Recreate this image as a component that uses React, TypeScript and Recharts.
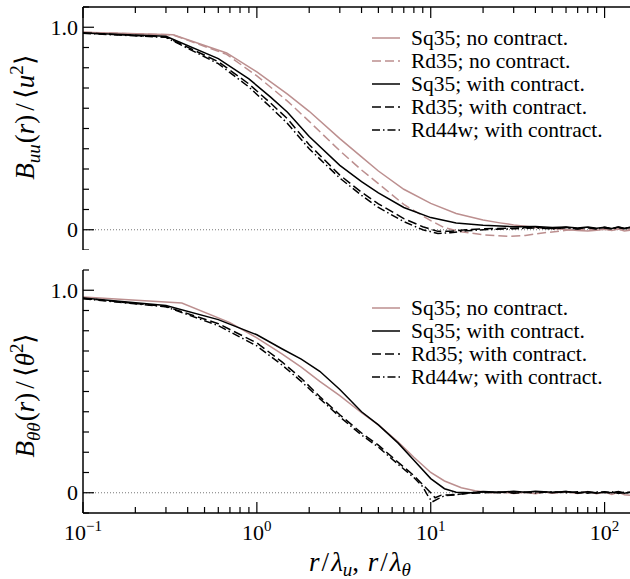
import React from 'react';
import { LineChart, Line, XAxis, YAxis, ReferenceLine } from 'recharts';

const PINK = '#bc8f8f';
const FONT = 'Liberation Serif';

// ---- x / y ticks ----
const X_TICKS = [0.1, 0.2, 0.3, 0.4, 0.5, 0.6, 0.7, 0.8, 0.9, 1, 2, 3, 4, 5, 6, 7, 8, 9, 10, 20, 30, 40, 50, 60, 70, 80, 90, 100];
const X_MAJOR = [0.1, 1, 10, 100];
const X_MAJOR_EXP = ['−1', '0', '1', '2'];
const Y_TICKS = [-0.1, 0, 0.1, 0.2, 0.3, 0.4, 0.5, 0.6, 0.7, 0.8, 0.9, 1.0, 1.1];
const Y_LABELED = [0, 1];
const Y_LABEL_TEXT = ['0', '1.0'];

// ---- top panel: B_uu ----
const topSq35No = [
  { x: 0.1, y: 0.975 }, { x: 0.33, y: 0.963 }, { x: 0.67, y: 0.873 }, { x: 1.0, y: 0.78 },
  { x: 1.5, y: 0.67 }, { x: 2.0, y: 0.585 }, { x: 3.0, y: 0.45 }, { x: 4.0, y: 0.36 },
  { x: 5.0, y: 0.29 }, { x: 7.0, y: 0.2 }, { x: 10, y: 0.13 }, { x: 14, y: 0.08 },
  { x: 20, y: 0.048 }, { x: 25, y: 0.034 }, { x: 30, y: 0.024 }, { x: 35, y: 0.017 },
  { x: 40, y: 0.011 }, { x: 50, y: 0.006 }, { x: 60, y: 0.001 }, { x: 70, y: -0.004 },
  { x: 80, y: -0.006 }, { x: 90, y: -0.002 }, { x: 100, y: 0.003 }, { x: 110, y: -0.004 },
  { x: 120, y: 0.004 }, { x: 130, y: -0.006 }, { x: 140, y: -0.003 },
];
const topRd35No = [
  { x: 0.1, y: 0.975 }, { x: 0.33, y: 0.962 }, { x: 0.67, y: 0.866 }, { x: 1.0, y: 0.76 },
  { x: 1.5, y: 0.635 }, { x: 2.0, y: 0.535 }, { x: 3.0, y: 0.39 }, { x: 4.0, y: 0.295 },
  { x: 5.0, y: 0.228 }, { x: 7.0, y: 0.125 }, { x: 10, y: 0.045 }, { x: 12, y: 0.01 },
  { x: 15, y: -0.01 }, { x: 20, y: -0.025 }, { x: 28, y: -0.033 }, { x: 35, y: -0.028 },
  { x: 45, y: -0.015 }, { x: 60, y: -0.003 }, { x: 70, y: 0.002 }, { x: 80, y: -0.002 },
  { x: 90, y: 0.004 }, { x: 100, y: 0.005 }, { x: 110, y: -0.002 }, { x: 120, y: 0.005 },
  { x: 130, y: 0.0 }, { x: 140, y: 0.004 },
];
const topSq35With = [
  { x: 0.1, y: 0.972 }, { x: 0.3, y: 0.955 }, { x: 0.6, y: 0.845 }, { x: 0.9, y: 0.745 },
  { x: 1.2, y: 0.655 }, { x: 1.5, y: 0.58 }, { x: 2.0, y: 0.46 }, { x: 3.0, y: 0.318 },
  { x: 4.0, y: 0.238 }, { x: 5.0, y: 0.182 }, { x: 7.0, y: 0.11 }, { x: 10, y: 0.06 },
  { x: 14, y: 0.033 }, { x: 20, y: 0.022 }, { x: 25, y: 0.018 }, { x: 30, y: 0.015 },
  { x: 40, y: 0.016 }, { x: 50, y: 0.011 }, { x: 60, y: 0.014 }, { x: 70, y: 0.009 },
  { x: 80, y: 0.013 }, { x: 90, y: 0.007 }, { x: 100, y: 0.012 }, { x: 110, y: 0.006 },
  { x: 120, y: 0.013 }, { x: 130, y: 0.008 }, { x: 140, y: 0.011 },
];
const topRd35With = [
  { x: 0.1, y: 0.972 }, { x: 0.3, y: 0.952 }, { x: 0.6, y: 0.83 }, { x: 0.9, y: 0.72 },
  { x: 1.2, y: 0.625 }, { x: 1.5, y: 0.548 }, { x: 2.0, y: 0.42 }, { x: 3.0, y: 0.27 },
  { x: 4.0, y: 0.185 }, { x: 5.0, y: 0.128 }, { x: 7.0, y: 0.055 }, { x: 9.0, y: 0.015 },
  { x: 11, y: -0.008 }, { x: 13, y: -0.008 }, { x: 16, y: 0.0 }, { x: 20, y: 0.005 },
  { x: 30, y: 0.008 }, { x: 40, y: 0.012 }, { x: 50, y: 0.006 }, { x: 60, y: 0.012 },
  { x: 70, y: 0.005 }, { x: 80, y: 0.01 }, { x: 90, y: 0.004 }, { x: 100, y: 0.012 },
  { x: 110, y: 0.005 }, { x: 120, y: 0.014 }, { x: 130, y: 0.006 }, { x: 140, y: 0.012 },
];
const topRd44wWith = [
  { x: 0.1, y: 0.97 }, { x: 0.3, y: 0.95 }, { x: 0.6, y: 0.82 }, { x: 0.9, y: 0.705 },
  { x: 1.2, y: 0.605 }, { x: 1.5, y: 0.525 }, { x: 2.0, y: 0.4 }, { x: 3.0, y: 0.255 },
  { x: 4.0, y: 0.17 }, { x: 5.0, y: 0.11 }, { x: 7.0, y: 0.04 }, { x: 9.0, y: 0.0 },
  { x: 11, y: -0.018 }, { x: 13, y: -0.015 }, { x: 16, y: -0.005 }, { x: 20, y: 0.0 },
  { x: 30, y: 0.005 }, { x: 40, y: 0.009 }, { x: 50, y: 0.004 }, { x: 60, y: 0.01 },
  { x: 70, y: 0.004 }, { x: 80, y: 0.011 }, { x: 90, y: 0.005 }, { x: 100, y: 0.009 },
  { x: 110, y: 0.003 }, { x: 120, y: 0.01 }, { x: 130, y: 0.005 }, { x: 140, y: 0.009 },
];

// ---- bottom panel: B_thetatheta ----
const botSq35No = [
  { x: 0.1, y: 0.967 }, { x: 0.37, y: 0.937 }, { x: 0.7, y: 0.84 }, { x: 1.0, y: 0.765 },
  { x: 1.4, y: 0.685 }, { x: 1.8, y: 0.62 }, { x: 2.3, y: 0.55 }, { x: 3.0, y: 0.48 },
  { x: 4.0, y: 0.395 }, { x: 5.0, y: 0.335 }, { x: 6.5, y: 0.25 }, { x: 8.0, y: 0.175 },
  { x: 10, y: 0.1 }, { x: 12, y: 0.058 }, { x: 15, y: 0.025 }, { x: 18, y: 0.01 },
  { x: 22, y: 0.0 }, { x: 26, y: 0.003 }, { x: 30, y: -0.004 }, { x: 35, y: 0.002 },
  { x: 40, y: -0.005 }, { x: 45, y: 0.004 }, { x: 50, y: -0.003 }, { x: 60, y: 0.005 },
  { x: 70, y: -0.004 }, { x: 80, y: 0.006 }, { x: 90, y: -0.005 }, { x: 100, y: 0.004 },
  { x: 110, y: -0.008 }, { x: 120, y: 0.003 }, { x: 130, y: -0.01 }, { x: 140, y: -0.012 },
];
const botSq35With = [
  { x: 0.1, y: 0.962 }, { x: 0.3, y: 0.925 }, { x: 0.6, y: 0.855 }, { x: 1.0, y: 0.78 },
  { x: 1.4, y: 0.71 }, { x: 1.8, y: 0.66 }, { x: 2.3, y: 0.6 }, { x: 3.0, y: 0.51 },
  { x: 4.0, y: 0.4 }, { x: 5.0, y: 0.335 }, { x: 6.5, y: 0.245 }, { x: 8.0, y: 0.16 },
  { x: 10, y: 0.07 }, { x: 12, y: 0.02 }, { x: 14, y: 0.003 }, { x: 17, y: 0.0 },
  { x: 20, y: 0.006 }, { x: 25, y: 0.002 }, { x: 30, y: 0.008 }, { x: 35, y: 0.003 },
  { x: 40, y: 0.007 }, { x: 50, y: 0.002 }, { x: 60, y: 0.006 }, { x: 70, y: 0.0 },
  { x: 80, y: 0.005 }, { x: 90, y: -0.002 }, { x: 100, y: 0.004 }, { x: 110, y: 0.0 },
  { x: 120, y: 0.006 }, { x: 130, y: -0.002 }, { x: 140, y: 0.003 },
];
const botRd35With = [
  { x: 0.1, y: 0.96 }, { x: 0.3, y: 0.92 }, { x: 0.6, y: 0.835 }, { x: 1.0, y: 0.74 },
  { x: 1.4, y: 0.645 }, { x: 1.8, y: 0.565 }, { x: 2.3, y: 0.475 }, { x: 3.0, y: 0.385 },
  { x: 4.0, y: 0.295 }, { x: 5.0, y: 0.235 }, { x: 6.5, y: 0.15 }, { x: 8.0, y: 0.085 },
  { x: 9.0, y: 0.04 }, { x: 10, y: 0.0 }, { x: 10.6, y: -0.025 }, { x: 11.5, y: -0.012 },
  { x: 13, y: -0.01 }, { x: 16, y: -0.004 }, { x: 20, y: 0.0 }, { x: 25, y: 0.004 },
  { x: 30, y: -0.002 }, { x: 40, y: 0.005 }, { x: 50, y: 0.0 }, { x: 60, y: 0.006 },
  { x: 70, y: -0.002 }, { x: 80, y: 0.004 }, { x: 90, y: 0.0 }, { x: 100, y: 0.005 },
  { x: 110, y: -0.003 }, { x: 120, y: 0.004 }, { x: 130, y: -0.002 }, { x: 140, y: 0.002 },
];
const botRd44wWith = [
  { x: 0.1, y: 0.958 }, { x: 0.3, y: 0.918 }, { x: 0.6, y: 0.825 }, { x: 1.0, y: 0.725 },
  { x: 1.4, y: 0.63 }, { x: 1.8, y: 0.55 }, { x: 2.3, y: 0.465 }, { x: 3.0, y: 0.375 },
  { x: 4.0, y: 0.285 }, { x: 5.0, y: 0.225 }, { x: 6.5, y: 0.14 }, { x: 8.0, y: 0.075 },
  { x: 9.0, y: 0.03 }, { x: 9.7, y: -0.02 }, { x: 10.2, y: -0.045 }, { x: 11, y: -0.03 },
  { x: 12, y: -0.015 }, { x: 14, y: -0.01 }, { x: 17, y: 0.0 }, { x: 20, y: 0.004 },
  { x: 25, y: 0.0 }, { x: 30, y: 0.005 }, { x: 40, y: -0.001 }, { x: 50, y: 0.005 },
  { x: 60, y: 0.0 }, { x: 70, y: 0.005 }, { x: 80, y: -0.002 }, { x: 90, y: 0.004 },
  { x: 100, y: 0.0 }, { x: 110, y: 0.005 }, { x: 120, y: -0.003 }, { x: 130, y: 0.003 },
  { x: 140, y: 0.0 },
];

const DASH = '9 4';
const DASHDOT = '8 3 1.5 3';

const topSeries = [
  { name: 'Sq35; no contract.', data: topSq35No, color: PINK, dash: undefined },
  { name: 'Rd35; no contract.', data: topRd35No, color: PINK, dash: DASH },
  { name: 'Sq35; with contract.', data: topSq35With, color: '#000', dash: undefined },
  { name: 'Rd35; with contract.', data: topRd35With, color: '#000', dash: DASH },
  { name: 'Rd44w; with contract.', data: topRd44wWith, color: '#000', dash: DASHDOT },
];
const botSeries = [
  { name: 'Sq35; no contract.', data: botSq35No, color: PINK, dash: undefined },
  { name: 'Sq35; with contract.', data: botSq35With, color: '#000', dash: undefined },
  { name: 'Rd35; with contract.', data: botRd35With, color: '#000', dash: DASH },
  { name: 'Rd44w; with contract.', data: botRd44wWith, color: '#000', dash: DASHDOT },
];

const MAJOR_LEN = 11;
const MINOR_LEN = 6;
const TICK_W = 1.2;
const TICK_FONT = 22;
const TITLE_FONT = 27;
const SUB_FONT = 19;

const TopXTick = (p: any) => {
  const v = p.payload.value;
  const len = X_MAJOR.includes(v) ? MAJOR_LEN : MINOR_LEN;
  return <line x1={p.x} x2={p.x} y1={p.y} y2={p.y + len} stroke="#000" strokeWidth={TICK_W} />;
};

const BottomXTick = (p: any) => {
  const v = p.payload.value;
  const idx = X_MAJOR.indexOf(v);
  const len = idx >= 0 ? MAJOR_LEN : MINOR_LEN;
  return (
    <g>
      <line x1={p.x} x2={p.x} y1={p.y} y2={p.y - len} stroke="#000" strokeWidth={TICK_W} />
      {idx >= 0 && (
        <text x={p.x} y={p.y + 27} textAnchor="middle" fontFamily={FONT} fontSize={TICK_FONT} fill="#000">
          <tspan>10</tspan>
          <tspan fontSize={15} dy={-9}>{X_MAJOR_EXP[idx]}</tspan>
        </text>
      )}
    </g>
  );
};

const LeftYTick = (p: any) => {
  const v = p.payload.value;
  const li = Y_LABELED.indexOf(v);
  const len = li >= 0 ? MAJOR_LEN : MINOR_LEN;
  return (
    <g>
      <line x1={p.x} x2={p.x + len} y1={p.y} y2={p.y} stroke="#000" strokeWidth={TICK_W} />
      {li >= 0 && (
        <text x={p.x - 5} y={p.y} dy="0.35em" textAnchor="end" fontFamily={FONT} fontSize={TICK_FONT} fill="#000">
          {Y_LABEL_TEXT[li]}
        </text>
      )}
    </g>
  );
};

const RightYTick = (p: any) => {
  const v = p.payload.value;
  const len = Y_LABELED.includes(v) ? MAJOR_LEN : MINOR_LEN;
  return <line x1={p.x - len} x2={p.x} y1={p.y} y2={p.y} stroke="#000" strokeWidth={TICK_W} />;
};

const YTitle = ({ cx, cy, sub, sym }: any) => (
  <text x={cx} y={cy} transform={`rotate(-90 ${cx} ${cy})`} textAnchor="middle" fontFamily={FONT} fontSize={TITLE_FONT} fill="#000">
    <tspan fontStyle="italic">B</tspan>
    <tspan fontStyle="italic" fontSize={SUB_FONT} dy={6}>{sub}</tspan>
    <tspan dy={-6} dx={1}>(</tspan>
    <tspan fontStyle="italic">r</tspan>
    <tspan>)</tspan>
    <tspan dx={4}>/</tspan>
    <tspan dx={4}>⟨</tspan>
    <tspan fontStyle="italic">{sym}</tspan>
    <tspan fontSize={SUB_FONT} dy={-11}>2</tspan>
    <tspan dy={11}>⟩</tspan>
  </text>
);

const TopYTitle = () => <YTitle cx={34} cy={117} sub="uu" sym="u" />;
const BotYTitle = () => <YTitle cx={34} cy={145} sub="θθ" sym="θ" />;

const XTitle = () => (
  <text x={360} y={321} textAnchor="middle" fontFamily={FONT} fontSize={TITLE_FONT} fill="#000">
    <tspan fontStyle="italic">r</tspan>
    <tspan dx={2}>/</tspan>
    <tspan dx={2} fontStyle="italic">λ</tspan>
    <tspan fontStyle="italic" fontSize={SUB_FONT} dy={5}>u</tspan>
    <tspan dy={-5}>, </tspan>
    <tspan dx={2} fontStyle="italic">r</tspan>
    <tspan dx={2}>/</tspan>
    <tspan dx={2} fontStyle="italic">λ</tspan>
    <tspan fontStyle="italic" fontSize={SUB_FONT} dy={5}>θ</tspan>
  </text>
);

const LegendBox = ({ items, left, top }: any) => (
  <div style={{ position: 'absolute', left, top, fontFamily: FONT, fontSize: 21.5, color: '#000' }}>
    {items.map((it: any) => (
      <div key={it.name} style={{ display: 'flex', alignItems: 'center', height: 22.9, whiteSpace: 'nowrap' }}>
        <svg width={28} height={10} style={{ marginRight: 11, display: 'block' }}>
          <line x1={0} x2={28} y1={5} y2={5} stroke={it.color} strokeWidth={1.5} strokeDasharray={it.dash} />
        </svg>
        <span>{it.name}</span>
      </div>
    ))}
  </div>
);

const renderLines = (series: any[]) =>
  series.map((s) => (
    <Line
      key={s.name}
      yAxisId="l"
      data={s.data}
      dataKey="y"
      type="linear"
      stroke={s.color}
      strokeWidth={1.5}
      strokeDasharray={s.dash}
      dot={false}
      activeDot={false}
      isAnimationActive={false}
    />
  ));

export default function App() {
  return (
    <div style={{ position: 'absolute', left: 0, top: 0, width: 630, height: 579, background: '#fff' }}>
      <div style={{ position: 'absolute', left: 0, top: 0 }}>
        <LineChart width={630} height={250} margin={{ top: 0, right: 0, bottom: 0, left: 0 }}>
          <XAxis
            dataKey="x"
            type="number"
            scale="log"
            domain={[0.1, 140]}
            allowDataOverflow
            orientation="top"
            height={7}
            ticks={X_TICKS}
            interval={0}
            tickSize={0}
            tickMargin={0}
            tickLine={false}
            tick={TopXTick}
            axisLine={{ stroke: '#000', strokeWidth: 1.5 }}
          />
          <YAxis
            yAxisId="l"
            type="number"
            domain={[-0.1, 1.1]}
            allowDataOverflow
            width={83}
            ticks={Y_TICKS}
            interval={0}
            tickSize={0}
            tickMargin={0}
            tickLine={false}
            tick={LeftYTick}
            axisLine={{ stroke: '#000', strokeWidth: 1.5 }}
            label={<TopYTitle />}
          />
          <YAxis
            yAxisId="r"
            orientation="right"
            type="number"
            domain={[-0.1, 1.1]}
            allowDataOverflow
            width={0}
            ticks={Y_TICKS}
            interval={0}
            tickSize={0}
            tickMargin={0}
            tickLine={false}
            tick={RightYTick}
            axisLine={false}
          />
          <ReferenceLine yAxisId="l" y={0} stroke="#777" strokeWidth={1} strokeDasharray="1 2" />
          {renderLines(topSeries)}
        </LineChart>
      </div>
      <div style={{ position: 'absolute', left: 0, top: 250 }}>
        <LineChart width={630} height={329} margin={{ top: 20, right: 0, bottom: 0, left: 0 }}>
          <XAxis
            dataKey="x"
            type="number"
            scale="log"
            domain={[0.1, 140]}
            allowDataOverflow
            orientation="bottom"
            height={66}
            ticks={X_TICKS}
            interval={0}
            tickSize={0}
            tickMargin={0}
            tickLine={false}
            tick={BottomXTick}
            axisLine={{ stroke: '#000', strokeWidth: 1.5 }}
            label={<XTitle />}
          />
          <YAxis
            yAxisId="l"
            type="number"
            domain={[-0.1, 1.1]}
            allowDataOverflow
            width={83}
            ticks={Y_TICKS}
            interval={0}
            tickSize={0}
            tickMargin={0}
            tickLine={false}
            tick={LeftYTick}
            axisLine={{ stroke: '#000', strokeWidth: 1.5 }}
            label={<BotYTitle />}
          />
          <YAxis
            yAxisId="r"
            orientation="right"
            type="number"
            domain={[-0.1, 1.1]}
            allowDataOverflow
            width={0}
            ticks={Y_TICKS}
            interval={0}
            tickSize={0}
            tickMargin={0}
            tickLine={false}
            tick={RightYTick}
            axisLine={false}
          />
          <ReferenceLine yAxisId="l" y={0} stroke="#777" strokeWidth={1} strokeDasharray="1 2" />
          {renderLines(botSeries)}
        </LineChart>
      </div>
      <LegendBox items={topSeries} left={372} top={27} />
      <LegendBox items={botSeries} left={372} top={297} />
    </div>
  );
}
